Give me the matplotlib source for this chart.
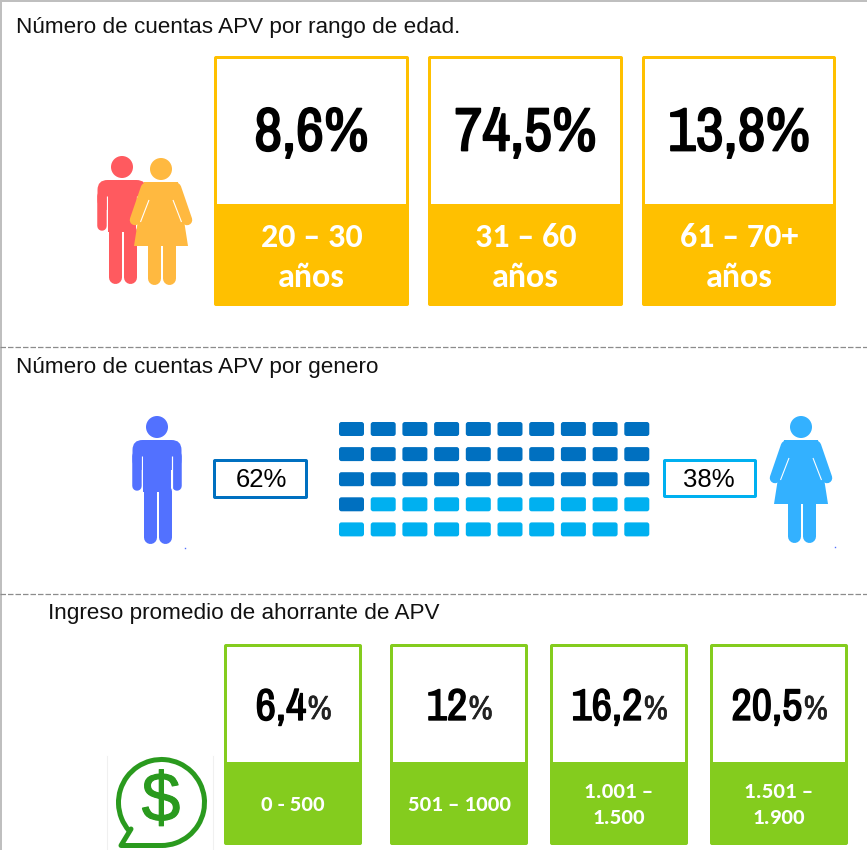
import matplotlib
matplotlib.use('Agg')
import matplotlib.pyplot as plt
import matplotlib.patheffects as pe
from matplotlib.patches import FancyBboxPatch, Rectangle, Circle, Polygon, Arc

# datos
titulos = ['Número de cuentas APV por rango de edad.', 'Número de cuentas APV por genero', 'Ingreso promedio de ahorrante de APV']
edad_valores = ['8,6%', '74,5%', '13,8%']
edad_rangos = ['20 – 30\naños', '31 – 60\naños', '61 – 70+\naños']
genero_valores = [62, 38]
ingreso_valores = ['6,4', '12', '16,2', '20,5']
ingreso_rangos = ['0 - 500', '501 – 1000', '1.001 –\n1.500', '1.501 –\n1.900']

AMARILLO = '#FFC000'
VERDE = '#84CC1E'
AZUL = '#0070C0'
CELESTE = '#00B0F0'
VERDE_OSC = '#2A9A1E'
NEGRITA = ['Archivo Narrow', 'Liberation Sans', 'DejaVu Sans']
ARIAL = ['Liberation Sans', 'DejaVu Sans']
CALIBRI = ['Carlito', 'Lato', 'DejaVu Sans']

fig = plt.figure(figsize=(8.67, 8.5), dpi=100)
ax = fig.add_axes([0, 0, 1, 1])
ax.set_xlim(0, 867)
ax.set_ylim(850, 0)
ax.axis('off')


def px(n):
    return n * 0.72


def grueso(ancho, color='black'):
    # la fuente angosta no trae negrita, se engruesa con un trazo
    return [pe.withStroke(linewidth=ancho, foreground=color)]


def caja(x0, x1, y0, y1, color, borde, ymid=None):
    # fondo de color y parte blanca encima
    ax.add_patch(FancyBboxPatch((x0, y0), x1 - x0, y1 - y0, boxstyle='round,pad=0,rounding_size=2', color=color, lw=0))
    if ymid is None:
        ymid = y1 - borde
    ax.add_patch(Rectangle((x0 + borde, y0 + borde), x1 - x0 - 2 * borde, ymid - y0 - borde, fc='white', lw=0))


def linea(xs, ys, color, ancho, cap='round', z=3):
    ax.plot(xs, ys, color=color, lw=px(ancho), solid_capstyle=cap, zorder=z)


def hombre(cx, top, color, z=3):
    ax.add_patch(Circle((cx, top + 11), 11, color=color, lw=0, zorder=z))
    ax.add_patch(FancyBboxPatch((cx - 24.5, top + 24), 49, 30, boxstyle='round,pad=0,rounding_size=10', color=color, lw=0, zorder=z))
    for lado in [-1, 1]:
        linea([cx + lado * 20, cx + lado * 20], [top + 40, top + 70], color, 9.5, z=z)
        linea([cx + lado * 14.7] * 2, [top + 40, top + 75], 'white', 1.2, cap='butt', z=z)
        linea([cx + lado * 7.5] * 2, [top + 75, top + 121], color, 13, z=z)
    ax.add_patch(Rectangle((cx - 14, top + 40), 28, 36, color=color, lw=0, zorder=z))


def mujer(cx, top, color, z=3):
    ax.add_patch(Circle((cx, top + 11), 11, color=color, lw=0, zorder=z))
    ax.add_patch(Polygon([(cx - 17, top + 24), (cx + 17, top + 24), (cx + 27, top + 88), (cx - 27, top + 88)], color=color, lw=0, zorder=z))
    linea([cx - 13, cx + 13], [top + 29, top + 29], color, 10, z=z)
    for lado in [-1, 1]:
        linea([cx + lado * 15, cx + lado * 26], [top + 30, top + 62], color, 10.5, z=z)
        linea([cx + lado * 12, cx + lado * 20.5], [top + 42, top + 64], 'white', 1.1, cap='butt', z=z)
        linea([cx + lado * 7.5] * 2, [top + 85, top + 120], color, 13, z=z)


# marco y separadores
ax.plot([0, 867], [1, 1], color='#BFBFBF', lw=px(2))
ax.plot([1, 1], [0, 850], color='#BFBFBF', lw=px(2))
for y in [347, 594]:
    ax.plot([0, 867], [y, y], color='#8C8C8C', lw=0.9, ls=(0, (4.4, 1.6)))

ax.text(16, 27, titulos[0], fontsize=16.2, family=ARIAL, va='center', color='#111111')
ax.text(16, 367, titulos[1], fontsize=16.2, family=ARIAL, va='center', color='#111111')
ax.text(48, 613, titulos[2], fontsize=16.2, family=ARIAL, va='center', color='#111111')

# rango de edad
edad_x = [(214, 409), (428, 623), (642, 836)]
for (x0, x1), val, rango in zip(edad_x, edad_valores, edad_rangos):
    caja(x0, x1, 56, 306, AMARILLO, 3, ymid=204)
    ax.text((x0 + x1) / 2, 134, val, fontsize=44, fontweight='bold', family=NEGRITA, ha='center', va='center', color='black', path_effects=grueso(1.3))
    ax.text((x0 + x1) / 2, 257.5, rango, fontsize=24.5, fontweight='bold', family=CALIBRI, ha='center', va='center', color='white', linespacing=1.47)

hombre(122, 156, '#FF5A5F', z=3)
mujer(161, 158, '#FFB940', z=5)

# genero
hombre(157, 416, '#5271FF')
mujer(801, 416, '#33B1FF')
caja(213, 308, 459, 499, AZUL, 3)
caja(663, 757, 459, 498, CELESTE, 3)
ax.text(261, 480, f'{genero_valores[0]}%', fontsize=18.5, family=ARIAL, ha='center', va='center', color='black')
ax.text(709, 480, f'{genero_valores[1]}%', fontsize=18.5, family=ARIAL, ha='center', va='center', color='black')

# cada cuadro vale 2%
n_oscuros = genero_valores[0] // 2
n_cuadros = (genero_valores[0] + genero_valores[1]) // 2
for i in range(n_cuadros):
    fila, col = divmod(i, 10)
    x = 339 + col * 31.7
    y = 422 + fila * 25.1
    ax.add_patch(FancyBboxPatch((x, y), 25, 14, boxstyle='round,pad=0,rounding_size=2.5', color=AZUL if i < n_oscuros else CELESTE, lw=0))

# ingreso
ingreso_x = [(224, 362), (390, 528), (550, 688), (710, 848)]
for (x0, x1), val, rango in zip(ingreso_x, ingreso_valores, ingreso_rangos):
    caja(x0, x1, 644, 845, VERDE, 3, ymid=762)
    t = ax.text((x0 + x1) / 2 - 12, 708, val, fontsize=32, fontweight='bold', family=NEGRITA, ha='center', va='center', color='black', path_effects=grueso(1.0))
    bb = t.get_window_extent(fig.canvas.get_renderer())
    ax.text(ax.transData.inverted().transform((bb.x1, 0))[0] + 1, 710, '%', fontsize=24, fontweight='bold', family=NEGRITA, ha='left', va='center', color='#222222', path_effects=grueso(0.5, '#222222'))
    ax.text((x0 + x1) / 2, 805, rango, fontsize=16.5, fontweight='bold', family=CALIBRI, ha='center', va='center', color='white', linespacing=1.35)

# icono de dolar
ax.plot([107, 107], [756, 850], color='#F0F0F0', lw=0.8)
ax.plot([213, 213], [756, 850], color='#F0F0F0', lw=0.8)
ax.add_patch(Arc((161.5, 802.5), 86, 86, theta1=139, theta2=450, color=VERDE_OSC, lw=px(5)))
linea([161.5, 121, 131], [845.5, 845.5, 829], VERDE_OSC, 5)
ax.text(161, 803, '$', fontsize=50, family=ARIAL, ha='center', va='center', color=VERDE_OSC, path_effects=grueso(0.8, VERDE_OSC))

# puntos azules sueltos
ax.plot([185, 835], [548, 547], ls='none', marker='s', ms=1, color='#5271FF', mew=0)

fig.savefig('out.png', dpi=100)
